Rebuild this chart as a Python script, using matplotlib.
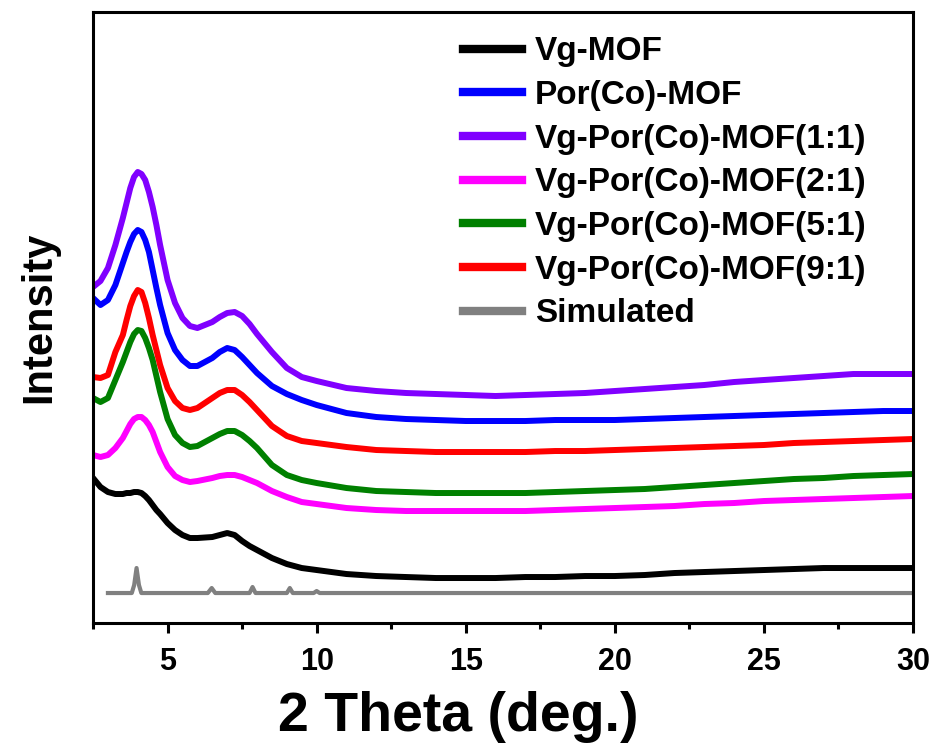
import matplotlib
matplotlib.use("Agg")
import matplotlib.pyplot as plt
from matplotlib.ticker import MultipleLocator, NullLocator

plt.rcParams["font.family"] = ["Liberation Sans", "DejaVu Sans"]
plt.rcParams["font.weight"] = "bold"

# 2 theta positions where the broad patterns were read
theta = [2.5, 2.75, 3.0, 3.25, 3.5, 3.625, 3.75, 3.875, 4.0, 4.125, 4.25,
         4.375, 4.5, 4.625, 4.75, 5.0, 5.25, 5.5, 5.75, 6.0, 6.5, 6.75, 7.0,
         7.25, 7.5, 7.75, 8.0, 8.5, 9.0, 9.5, 10,
         11, 12, 13, 14, 15, 16, 17, 18, 19, 20, 21, 22, 23, 24, 25, 26, 27,
         28, 29, 30]

# stacked intensities (a.u., offsets included)
vg_mof = [145, 136, 131, 129, 129, 130, 130, 131, 131, 130, 127, 123, 118,
          113, 109, 100, 93, 88, 85, 85, 86, 88, 90, 88, 82, 77, 73, 65, 59,
          55, 53,
          49, 47, 46, 45, 45, 45, 46, 46, 47, 47, 48, 50, 51, 52, 53, 54, 55,
          55, 55, 55]
por_co = [325, 318, 323, 338, 360, 371, 381, 389, 393, 391, 383, 371, 353,
          335, 318, 290, 273, 263, 257, 257, 265, 271, 275, 273, 266, 258,
          250, 237, 229, 223, 218,
          210, 206, 204, 203, 202, 202, 202, 203, 203, 203, 204, 205, 206,
          207, 208, 209, 210, 211, 212, 212]
vg_por_11 = [336, 342, 355, 378, 405, 420, 435, 446, 451, 449, 443, 431, 416,
             398, 378, 343, 320, 305, 297, 295, 301, 306, 310, 311, 307, 299,
             289, 271, 255, 246, 242,
             235, 232, 230, 229, 228, 227, 228, 229, 230, 232, 234, 236, 238,
             241, 243, 245, 247, 249, 249, 249]
vg_por_21 = [168, 166, 168, 175, 185, 192, 199, 204, 206, 206, 203, 198, 191,
             181, 171, 156, 147, 143, 141, 142, 145, 147, 148, 148, 146, 143,
             140, 132, 126, 121, 119,
             115, 113, 112, 112, 112, 112, 112, 113, 114, 115, 116, 117, 119,
             120, 122, 123, 124, 125, 126, 127]
vg_por_51 = [225, 221, 225, 243, 261, 271, 281, 289, 293, 292, 285, 275, 263,
             247, 231, 204, 188, 180, 176, 177, 185, 189, 192, 192, 188, 182,
             175, 158, 148, 143, 140,
             135, 132, 131, 130, 130, 130, 130, 131, 132, 133, 134, 136, 138,
             140, 142, 144, 145, 147, 148, 149]
vg_por_91 = [246, 245, 248, 271, 288, 303, 317, 327, 333, 331, 320, 305, 288,
             273, 258, 235, 222, 215, 213, 215, 225, 230, 233, 233, 228, 221,
             213, 197, 187, 182, 180,
             176, 173, 172, 171, 171, 171, 171, 172, 172, 173, 174, 175, 176,
             177, 178, 180, 181, 182, 183, 184]

# simulated pattern
sim_theta = [3.0, 3.8, 3.88, 3.96, 4.04, 4.12, 6.35, 6.48, 6.6, 7.75, 7.85,
             7.95, 9.0, 9.1, 9.2, 9.9, 10.0, 10.1, 30.0]
sim_int = [30, 30, 38, 55, 38, 30, 30, 35, 30, 30, 36, 30, 30, 35, 30, 30,
           32, 30, 30]

series = [
    ("Vg-MOF", vg_mof, "black"),
    ("Por(Co)-MOF", por_co, "#0000ff"),
    ("Vg-Por(Co)-MOF(1:1)", vg_por_11, "#8000ff"),
    ("Vg-Por(Co)-MOF(2:1)", vg_por_21, "#ff00ff"),
    ("Vg-Por(Co)-MOF(5:1)", vg_por_51, "#008000"),
    ("Vg-Por(Co)-MOF(9:1)", vg_por_91, "#ff0000"),
]

fig = plt.figure(figsize=(9.34, 7.44), dpi=100)
ax = fig.add_axes([0.0996, 0.1626, 0.8779, 0.8213])

for name, y, c in series:
    ax.plot(theta, y, color=c, lw=4.3, label=name, solid_joinstyle="round")
ax.plot(sim_theta, sim_int, color="#808080", lw=3, label="Simulated",
        solid_joinstyle="round")

ax.set_xlim(2.5, 30)
ax.set_ylim(0, 611)
ax.xaxis.set_major_locator(MultipleLocator(5))
ax.xaxis.set_minor_locator(MultipleLocator(2.5))
ax.yaxis.set_major_locator(NullLocator())
for s in ax.spines.values():
    s.set_linewidth(2.2)
ax.tick_params(axis="x", which="major", direction="out", length=7, width=2.2,
               labelsize=22, pad=10)
ax.tick_params(axis="x", which="minor", direction="out", length=4, width=2.2)

ax.set_xlabel("2 Theta (deg.)", fontsize=40, fontweight="bold")
ax.xaxis.label.set_verticalalignment("baseline")
ax.xaxis.set_label_coords(0.445, -0.176)
ax.set_ylabel("Intensity", fontsize=30, fontweight="bold", labelpad=24)

leg = ax.legend(loc="upper left", bbox_to_anchor=(0.451, 0.96), frameon=False,
                fontsize=24, handlelength=1.77, handletextpad=0.39,
                labelspacing=0.38, borderaxespad=0, borderpad=0)
for line in leg.get_lines():
    line.set_linewidth(6)

fig.savefig("out.png", dpi=100)
